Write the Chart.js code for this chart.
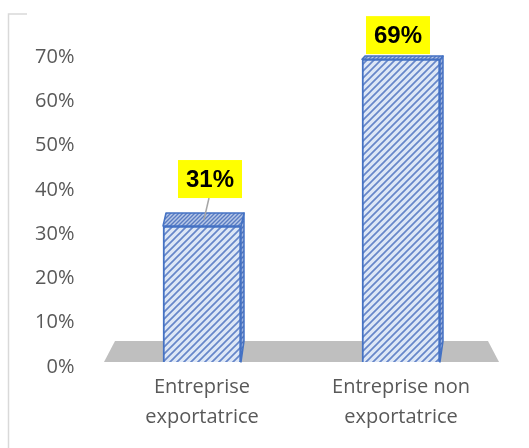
<!DOCTYPE html>
<html>
<head>
<meta charset="utf-8">
<script src="https://cdn.jsdelivr.net/npm/chart.js@4.4.0/dist/chart.umd.min.js"></script>
<style>
  html, body { margin: 0; padding: 0; background: #fff; }
  #wrap { width: 529px; height: 448px; }
</style>
</head>
<body>
<div id="wrap"><canvas id="chart" width="529" height="448"></canvas></div>
<script>
const categories = [['Entreprise', 'exportatrice'], ['Entreprise non', 'exportatrice']];
const shares = [31, 69];
const tickValues = [0, 10, 20, 30, 40, 50, 60, 70];

// fake 3d: faces recede towards a point above the plot
const eyeY = 7;
const persp = 0.059;
const sideDx = 3;

// label placement relative to the back edge of each bar top
const labelShift = [
  { dx: 8, gap: 15, leader: true },
  { dx: -3, gap: 2, leader: false }
];

function stripes(bg, fg, size, lw) {
  const c = document.createElement('canvas');
  c.width = c.height = size;
  const g = c.getContext('2d');
  g.fillStyle = bg;
  g.fillRect(0, 0, size, size);
  g.strokeStyle = fg;
  g.lineWidth = lw;
  g.beginPath();
  g.moveTo(0, size); g.lineTo(size, 0);
  g.moveTo(-size / 2, size / 2); g.lineTo(size / 2, -size / 2);
  g.moveTo(size / 2, size * 1.5); g.lineTo(size * 1.5, size / 2);
  g.stroke();
  return g.createPattern(c, 'repeat');
}

const frontFill = stripes('#dde7f6', '#6686c9', 7, 1.7);
const topFill = stripes('#b7c8e8', '#5a7cc2', 4, 1.4);
const sideFill = stripes('#9fb5e0', '#4f70b8', 5, 1.4);

const depth = {
  id: 'depth',
  beforeDatasetsDraw(chart) {
    const { ctx, chartArea } = chart;
    const front = chart.scales.yb.getPixelForValue(0);
    const back = front - (front - eyeY) * persp;
    const l = chartArea.left + 1.5, r = chartArea.right - 1.5;
    ctx.save();
    ctx.fillStyle = '#bfbfbf';
    ctx.beginPath();
    ctx.moveTo(l, front);
    ctx.lineTo(r, front);
    ctx.lineTo(r - 11, back);
    ctx.lineTo(l + 11, back);
    ctx.closePath();
    ctx.fill();
    ctx.restore();
  },
  afterDatasetsDraw(chart) {
    const ctx = chart.ctx;
    ctx.save();
    ctx.strokeStyle = '#4472c4';
    ctx.lineWidth = 1.5;
    ctx.lineJoin = 'round';
    chart.getDatasetMeta(0).data.forEach(bar => {
      const { x, y, base, width } = bar.getProps(['x', 'y', 'base', 'width'], true);
      const l = x - width / 2, r = x + width / 2;
      const dy = (y - eyeY) * persp;
      const dyB = (base - eyeY) * persp;
      // right side
      ctx.fillStyle = sideFill;
      ctx.beginPath();
      ctx.moveTo(r, y);
      ctx.lineTo(r + sideDx, y - dy);
      ctx.lineTo(r + sideDx, base - dyB);
      ctx.lineTo(r, base);
      ctx.closePath();
      ctx.fill();
      ctx.stroke();
      // top
      ctx.fillStyle = topFill;
      ctx.beginPath();
      ctx.moveTo(l, y);
      ctx.lineTo(r, y);
      ctx.lineTo(r + sideDx, y - dy);
      ctx.lineTo(l + sideDx, y - dy);
      ctx.closePath();
      ctx.fill();
      ctx.stroke();
    });
    ctx.restore();
  },
  afterDraw(chart) {
    const ctx = chart.ctx;
    ctx.save();
    // frame remnant on the left
    ctx.strokeStyle = '#d9d9d9';
    ctx.lineWidth = 1.5;
    ctx.beginPath();
    ctx.moveTo(27, 14);
    ctx.lineTo(8.5, 14);
    ctx.lineTo(8.5, 448);
    ctx.stroke();

    // value labels
    const bw = 64, bh = 38;
    chart.getDatasetMeta(0).data.forEach((bar, i) => {
      const { x, y } = bar.getProps(['x', 'y'], true);
      const dy = (y - eyeY) * persp;
      const s = labelShift[i];
      const cx = x + s.dx;
      const bottom = y - dy - s.gap;
      if (s.leader) {
        ctx.strokeStyle = '#a6a6a6';
        ctx.lineWidth = 1.5;
        ctx.beginPath();
        ctx.moveTo(cx - 1, bottom);
        ctx.lineTo(x + 2, y - dy / 2);
        ctx.stroke();
      }
      ctx.fillStyle = '#ffff00';
      ctx.fillRect(cx - bw / 2, bottom - bh, bw, bh);
      ctx.fillStyle = '#000';
      ctx.font = 'bold 24px "Liberation Sans", Arial, sans-serif';
      ctx.textAlign = 'center';
      ctx.textBaseline = 'middle';
      ctx.fillText(shares[i] + '%', cx, bottom - bh / 2 + 1);
    });
    ctx.restore();
  }
};

new Chart(document.getElementById('chart'), {
  type: 'bar',
  data: {
    labels: categories,
    datasets: [{
      data: shares,
      yAxisID: 'yb',
      backgroundColor: frontFill,
      borderColor: '#4472c4',
      borderWidth: 2,
      barThickness: 78,
      clip: false
    }]
  },
  options: {
    responsive: false,
    animation: false,
    layout: { padding: { top: 57, right: 28.5, bottom: 0, left: 0 } },
    plugins: { legend: { display: false }, tooltip: { enabled: false } },
    scales: {
      x: {
        grid: { display: false, drawTicks: false },
        border: { display: false },
        ticks: {
          color: '#595959',
          padding: 5,
          maxRotation: 0,
          font: { family: '"Open Sans", sans-serif', size: 20, lineHeight: 1.5 }
        },
        afterFit(scale) { scale.height = 81; }
      },
      y: {
        min: 0,
        max: 70,
        grid: { display: false, drawTicks: false },
        border: { display: false },
        afterBuildTicks(scale) { scale.ticks = tickValues.map(v => ({ value: v })); },
        ticks: {
          color: '#595959',
          padding: 28,
          font: { family: '"Open Sans", sans-serif', size: 20 },
          callback: v => v + '%'
        },
        afterFit(scale) { scale.width = 102.5; }
      },
      yb: {
        display: false,
        min: -1.14,
        max: 69.5
      }
    }
  },
  plugins: [depth]
});
</script>
</body>
</html>
